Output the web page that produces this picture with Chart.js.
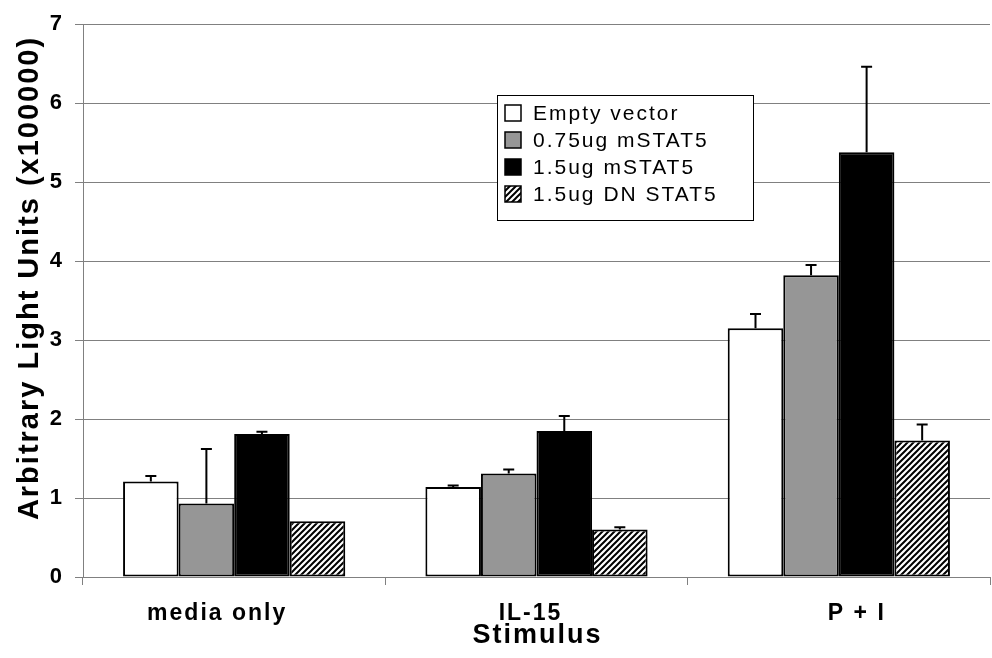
<!DOCTYPE html>
<html>
<head>
<meta charset="utf-8">
<script src="https://cdn.jsdelivr.net/npm/chart.js@4/dist/chart.umd.min.js"></script>
<style>
	html, body { margin: 0; padding: 0; background: #fff; }
</style>
</head>
<body>
<canvas id="stat5-graph" width="992" height="658"></canvas>
<script>
const stimuli = ["media only", "IL-15", "P + I"];
const seriesNames = ["Empty vector", "0.75ug mSTAT5", "1.5ug mSTAT5", "1.5ug DN STAT5"];
const emptyVector = [1.21, 1.14, 3.15];
const lowStat5 = [0.93, 1.31, 3.82];
const highStat5 = [1.81, 1.85, 5.38];
const dnStat5 = [0.705, 0.6, 1.73];
// upper error (added to the bar value)
const emptyVectorErr = [0.07, 0.02, 0.18];
const lowStat5Err = [0.69, 0.05, 0.13];
const highStat5Err = [0.03, 0.19, 1.08];
const dnStat5Err = [0.0, 0.03, 0.2];
const yTicks = [0, 1, 2, 3, 4, 5, 6, 7];
const xTitle = "Stimulus";
const yTitle = "Arbitrary Light Units (x100000)";

const FONT = "'Liberation Sans', Arial, sans-serif";

//diagonal hatch for the dominant-negative series
const makeHatch = () => {
	const c = document.createElement("canvas");
	c.width = 6;
	c.height = 6;
	const g = c.getContext("2d");
	g.fillStyle = "#fff";
	g.fillRect(0, 0, 6, 6);
	g.strokeStyle = "#000";
	g.lineWidth = 2;
	g.beginPath();
	g.moveTo(-1, 7);
	g.lineTo(7, -1);
	g.moveTo(-1, 1);
	g.lineTo(1, -1);
	g.moveTo(5, 7);
	g.lineTo(7, 5);
	g.stroke();
	return g.createPattern(c, "repeat");
};

const fills = ["#ffffff", "#969696", "#000000", makeHatch()];
const values = [emptyVector, lowStat5, highStat5, dnStat5];
const errors = [emptyVectorErr, lowStat5Err, highStat5Err, dnStat5Err];

const spacing = {
	id: "spacing",
	beforeUpdate: (chart) => { chart.ctx.letterSpacing = "2px"; },
	beforeDraw: (chart) => { chart.ctx.letterSpacing = "2px"; },
};

const errorBars = {
	id: "errorBars",
	afterDatasetsDraw: (chart) => {
		const ctx = chart.ctx;
		const y = chart.scales.y;
		ctx.save();
		ctx.strokeStyle = "#000";
		ctx.lineWidth = 2;
		chart.data.datasets.forEach((ds, i) => {
			chart.getDatasetMeta(i).data.forEach((bar, j) => {
				if (!ds.errors[j]) return;
				const top = y.getPixelForValue(ds.data[j] + ds.errors[j]);
				ctx.beginPath();
				ctx.moveTo(bar.x, bar.y);
				ctx.lineTo(bar.x, top);
				ctx.moveTo(bar.x - 5.5, top);
				ctx.lineTo(bar.x + 5.5, top);
				ctx.stroke();
			});
		});
		ctx.restore();
	},
};

//axis texts drawn by hand: the original labels sit a little spread out
const axisTexts = {
	id: "axisTexts",
	afterDraw: (chart) => {
		const ctx = chart.ctx;
		const x = chart.scales.x;
		const nudge = [-18, -7, 17];
		ctx.save();
		ctx.letterSpacing = "2px";
		ctx.fillStyle = "#000";
		ctx.textAlign = "center";
		ctx.textBaseline = "middle";
		ctx.font = "bold 23px " + FONT;
		stimuli.forEach((s, i) => {
			ctx.fillText(s, x.getPixelForValue(i) + nudge[i] + 1, 614);
		});
		ctx.font = "bold 27px " + FONT;
		ctx.fillText(xTitle, (x.left + x.right) / 2 + 1, 636);
		ctx.translate(30, 278);
		ctx.rotate(-Math.PI / 2);
		ctx.font = "bold 29px " + FONT;
		ctx.fillText(yTitle, 0, 0);
		ctx.restore();
	},
};

const boxLegend = {
	id: "boxLegend",
	afterDraw: (chart) => {
		const ctx = chart.ctx;
		ctx.save();
		ctx.letterSpacing = "2px";
		ctx.fillStyle = "#fff";
		ctx.fillRect(497, 95, 256, 125);
		ctx.strokeStyle = "#000";
		ctx.lineWidth = 1;
		ctx.strokeRect(497.5, 95.5, 256, 125);
		ctx.font = "21px " + FONT;
		ctx.textBaseline = "middle";
		chart.data.datasets.forEach((ds, i) => {
			const cy = 113 + i * 27;
			ctx.fillStyle = ds.backgroundColor;
			ctx.fillRect(505, cy - 8, 16, 16);
			ctx.lineWidth = 1.5;
			ctx.strokeRect(505, cy - 8, 16, 16);
			ctx.fillStyle = "#000";
			ctx.fillText(ds.label, 533, cy + 1);
		});
		ctx.restore();
	},
};

const stat5Graph = new Chart(document.getElementById("stat5-graph"), {
	type: "bar",
	data: {
		labels: stimuli,
		datasets: seriesNames.map((name, i) => ({
			label: name,
			data: values[i],
			errors: errors[i],
			backgroundColor: fills[i],
			borderColor: "#000",
			borderWidth: 2,
			borderSkipped: false,
			categoryPercentage: 0.735,
			barPercentage: 1.0,
		})),
	},
	options: {
		responsive: false,
		animation: false,
		devicePixelRatio: 1,
		layout: { padding: { top: 21, right: 2, bottom: 0, left: 0 } },
		plugins: {
			legend: { display: false },
			tooltip: { enabled: false },
		},
		scales: {
			x: {
				grid: {
					drawOnChartArea: false,
					drawTicks: true,
					tickLength: 8,
					color: "#808080",
				},
				border: { color: "#808080", width: 1 },
				ticks: { display: false },
				afterFit: (scale) => { scale.height = 81; },
			},
			y: {
				min: 0,
				max: 7,
				afterBuildTicks: (scale) => { scale.ticks = yTicks.map((v) => ({ value: v })); },
				grid: {
					color: "#808080",
					tickLength: 8,
				},
				border: { color: "#808080", width: 1 },
				ticks: {
					color: "#000",
					padding: 11,
					font: { family: FONT, size: 22, weight: "bold" },
				},
				afterFit: (scale) => { scale.width = 83; },
			},
		},
	},
	plugins: [spacing, errorBars, axisTexts, boxLegend],
});
</script>
</body>
</html>
